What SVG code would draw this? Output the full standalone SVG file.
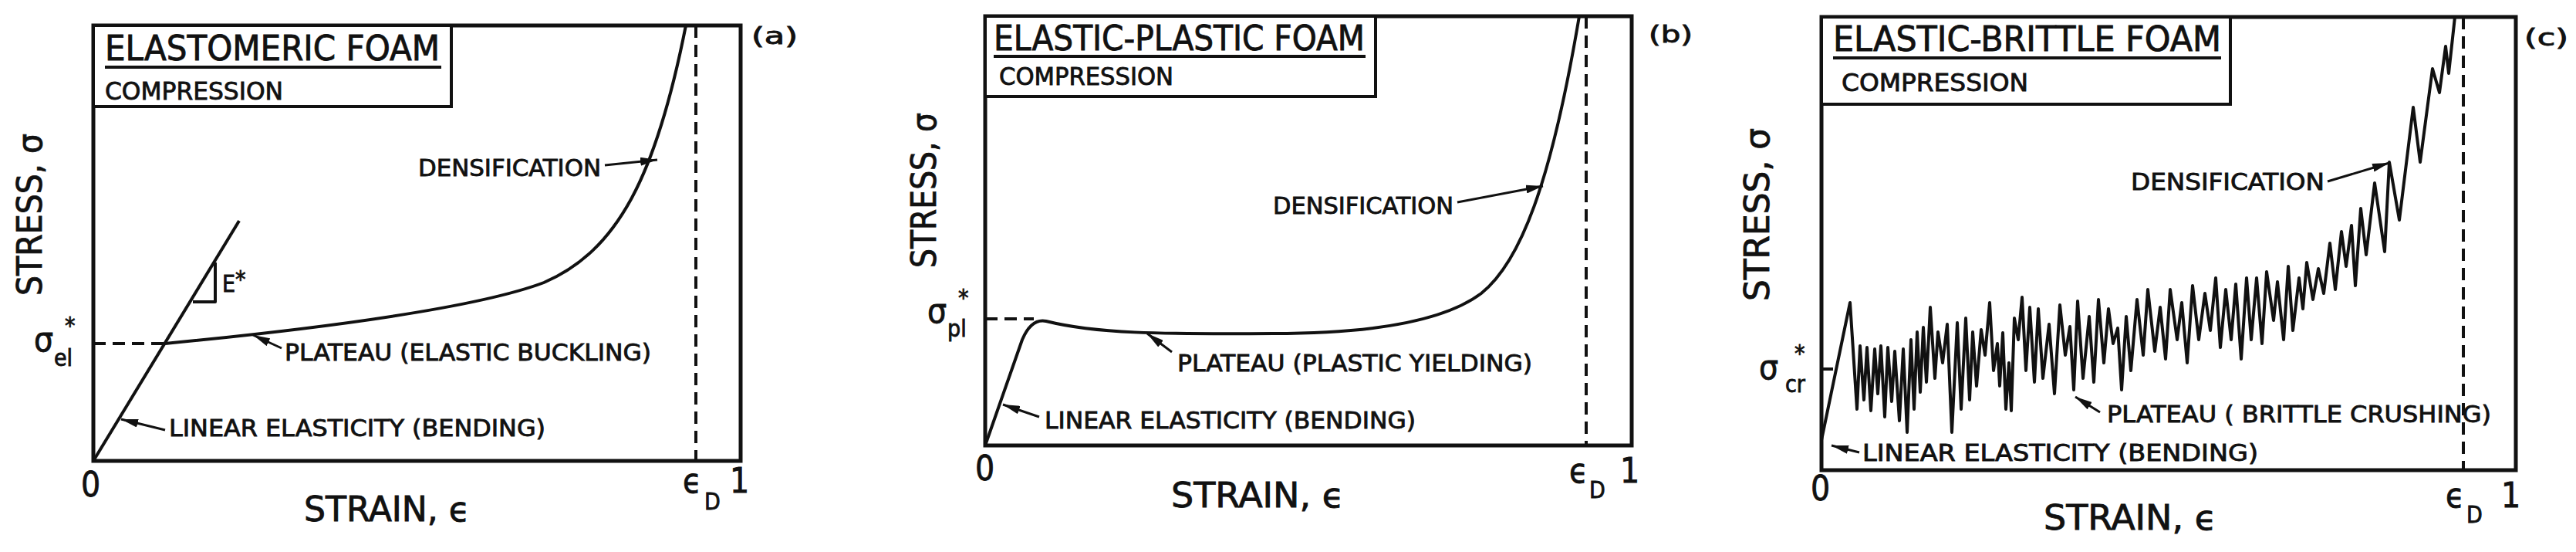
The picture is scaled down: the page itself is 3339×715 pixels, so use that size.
<svg xmlns="http://www.w3.org/2000/svg" width="3339" height="715" viewBox="0 0 3339 715">
<style>
text{font-family:"DejaVu Sans Condensed","Liberation Sans Narrow","Liberation Sans",sans-serif;fill:#111;stroke:#111;stroke-width:0.8}
.box{fill:none;stroke:#111;stroke-width:5}
.tb{fill:#fff;stroke:#111;stroke-width:4}
.cur{fill:none;stroke:#111;stroke-width:4;stroke-linejoin:round}
.dash{fill:none;stroke:#111;stroke-width:4;stroke-dasharray:16 9}
.ld{fill:none;stroke:#111;stroke-width:3;marker-end:url(#ah)}
.t1{font-size:44px}
.t2{font-size:32px}
.lb{font-size:30px}
.ax{font-size:44px}
.sub{font-size:30px}
.ul{stroke:#111;stroke-width:4}
</style>
<defs>
<marker id="ah" viewBox="0 0 20 10" refX="20" refY="5" markerWidth="22" markerHeight="11" markerUnits="userSpaceOnUse" orient="auto"><path d="M0,0 L20,5 L0,10 Z" fill="#111"/></marker>
</defs>
<rect width="3339" height="715" fill="#fff"/>

<g id="panel-a">
<rect class="box" x="121" y="33" width="839" height="564"/>
<rect class="tb" x="121" y="33" width="464" height="105"/>
<text class="t1" x="136" y="78" textLength="434" lengthAdjust="spacingAndGlyphs">ELASTOMERIC FOAM</text>
<line class="ul" x1="136" y1="87" x2="572" y2="87"/>
<text class="t2" x="136" y="129" textLength="231" lengthAdjust="spacingAndGlyphs">COMPRESSION</text>
<text class="lb" x="974" y="57" font-size="34" textLength="60" lengthAdjust="spacingAndGlyphs">(a)</text>
<text class="ax" transform="translate(54,383) rotate(-90)" textLength="210" lengthAdjust="spacingAndGlyphs">STRESS, σ</text>
<text class="ax" x="44" y="455">σ</text><text class="sub" x="70" y="474">el</text><text class="sub" x="84" y="432">*</text>
<line class="dash" x1="121" y1="445" x2="214" y2="445"/>
<line class="cur" x1="121" y1="597" x2="310" y2="286"/>
<polyline class="cur" points="250,391 279,391 279,340" stroke-width="3"/>
<text class="lb" x="288" y="378">E</text><text class="lb" x="305" y="372" font-size="34">*</text>
<path class="cur" d="M214,445 C420,425 620,398 705,366 C800,325 850,230 889,33"/>
<line class="dash" x1="902" y1="33" x2="902" y2="597"/>
<text class="ax" x="105" y="643">0</text>
<text class="ax" x="394" y="675" textLength="215" lengthAdjust="spacingAndGlyphs">STRAIN, ϵ</text>
<text class="ax" x="885" y="638">ϵ</text><text class="sub" x="913" y="660">D</text>
<text class="ax" x="946" y="638">1</text>
<text class="lb" x="542" y="228" textLength="237" lengthAdjust="spacingAndGlyphs">DENSIFICATION</text>
<text class="lb" x="369" y="467" textLength="475" lengthAdjust="spacingAndGlyphs">PLATEAU (ELASTIC BUCKLING)</text>
<text class="lb" x="219" y="565" textLength="488" lengthAdjust="spacingAndGlyphs">LINEAR ELASTICITY (BENDING)</text>
</g>

<g id="panel-b">
<rect class="box" x="1277" y="21" width="838" height="556"/>
<rect class="tb" x="1277" y="21" width="506" height="104"/>
<text class="t1" x="1288" y="65" textLength="481" lengthAdjust="spacingAndGlyphs">ELASTIC-PLASTIC FOAM</text>
<line class="ul" x1="1288" y1="73" x2="1770" y2="73"/>
<text class="t2" x="1295" y="110" textLength="226" lengthAdjust="spacingAndGlyphs">COMPRESSION</text>
<text class="lb" x="2137" y="55" font-size="34" textLength="57" lengthAdjust="spacingAndGlyphs">(b)</text>
<text class="ax" transform="translate(1213,347) rotate(-90)" textLength="201" lengthAdjust="spacingAndGlyphs">STRESS, σ</text>
<text class="ax" x="1202" y="418">σ</text><text class="sub" x="1228" y="436">pl</text><text class="sub" x="1242" y="396">*</text>
<line class="dash" x1="1277" y1="413" x2="1340" y2="413"/>
<path class="cur" d="M1277,577 L1325,440 Q1337,412 1356,416 C1420,432 1500,433 1650,432 C1800,432 1880,410 1920,380 C1970,340 2010,240 2047,21"/>
<line class="dash" x1="2056" y1="21" x2="2056" y2="577"/>
<text class="ax" x="1264" y="622">0</text>
<text class="ax" x="1518" y="657" textLength="224" lengthAdjust="spacingAndGlyphs">STRAIN, ϵ</text>
<text class="ax" x="2034" y="625">ϵ</text><text class="sub" x="2060" y="645">D</text>
<text class="ax" x="2100" y="625">1</text>
<text class="lb" x="1650" y="277" textLength="234" lengthAdjust="spacingAndGlyphs">DENSIFICATION</text>
<text class="lb" x="1526" y="481" textLength="460" lengthAdjust="spacingAndGlyphs">PLATEAU (PLASTIC YIELDING)</text>
<text class="lb" x="1354" y="555" textLength="481" lengthAdjust="spacingAndGlyphs">LINEAR ELASTICITY (BENDING)</text>
</g>

<g id="panel-c">
<rect class="box" x="2361" y="22" width="900" height="587"/>
<rect class="tb" x="2361" y="22" width="530" height="113"/>
<text class="t1" x="2376" y="66" textLength="503" lengthAdjust="spacingAndGlyphs">ELASTIC-BRITTLE FOAM</text>
<line class="ul" x1="2376" y1="75" x2="2879" y2="75"/>
<text class="t2" x="2387" y="118" textLength="242" lengthAdjust="spacingAndGlyphs">COMPRESSION</text>
<text class="lb" x="3272" y="59" font-size="34" textLength="57" lengthAdjust="spacingAndGlyphs">(c)</text>
<text class="ax" transform="translate(2293,390) rotate(-90)" textLength="224" lengthAdjust="spacingAndGlyphs">STRESS, σ</text>
<text class="ax" x="2280" y="491">σ</text><text class="sub" x="2314" y="508">cr</text><text class="sub" x="2326" y="468">*</text>
<line class="cur" x1="2361" y1="478" x2="2376" y2="478" stroke-width="3"/>
<polyline class="cur" stroke-width="4" points="2361,570 2398,392 2407,530 2411,448 2416,518 2420,450 2425,532 2430,452 2434,510 2438,448 2443,540 2447,450 2452,520 2456,455 2462,545 2467,452 2472,560 2477,440 2481,530 2485,430 2489,508 2493,424 2497,495 2502,398 2508,490 2512,430 2518,470 2524,420 2530,560 2537,418 2542,530 2548,412 2553,518 2557,430 2562,500 2568,427 2573,460 2579,392 2584,480 2589,445 2592,500 2596,431 2600,530 2604,470 2607,532 2611,412 2616,440 2621,385 2626,480 2631,398 2637,495 2642,400 2648,490 2656,420 2663,510 2670,395 2677,460 2683,423 2688,505 2693,390 2700,490 2708,410 2714,495 2720,388 2727,470 2733,400 2739,445 2745,425 2750,505 2756,410 2762,480 2770,388 2778,460 2784,375 2793,455 2800,398 2807,465 2813,375 2822,440 2828,392 2835,470 2842,370 2850,440 2858,380 2865,428 2872,360 2878,450 2885,375 2892,440 2898,368 2905,465 2912,360 2918,440 2925,360 2932,445 2938,352 2947,415 2952,365 2960,440 2966,345 2972,428 2980,360 2985,400 2990,340 2998,388 3005,348 3012,380 3020,315 3027,375 3035,300 3041,345 3048,292 3053,370 3060,270 3067,330 3078,237 3091,326 3097,210 3110,285 3128,139 3137,210 3153,89 3162,120 3170,60 3174,95 3182,22"/>
<line class="dash" x1="3193" y1="22" x2="3193" y2="609"/>
<text class="ax" x="2347" y="648">0</text>
<text class="ax" x="2649" y="686" textLength="224" lengthAdjust="spacingAndGlyphs">STRAIN, ϵ</text>
<text class="ax" x="3170" y="657">ϵ</text><text class="sub" x="3197" y="677">D</text>
<text class="ax" x="3242" y="657">1</text>
<text class="lb" x="2762" y="246" textLength="251" lengthAdjust="spacingAndGlyphs">DENSIFICATION</text>
<text class="lb" x="2731" y="547" textLength="498" lengthAdjust="spacingAndGlyphs">PLATEAU ( BRITTLE CRUSHING)</text>
<text class="lb" x="2414" y="597" textLength="513" lengthAdjust="spacingAndGlyphs">LINEAR ELASTICITY (BENDING)</text>
</g>

<g id="connectors">
<line class="ld" x1="784" y1="214" x2="852" y2="207"/>
<line class="ld" x1="365" y1="451" x2="328" y2="434"/>
<line class="ld" x1="214" y1="557" x2="157" y2="543"/>
<line class="ld" x1="1889" y1="262" x2="2000" y2="241"/>
<line class="ld" x1="1519" y1="456" x2="1487" y2="432"/>
<line class="ld" x1="1347" y1="540" x2="1300" y2="524"/>
<line class="ld" x1="3017" y1="235" x2="3097" y2="211"/>
<line class="ld" x1="2722" y1="534" x2="2690" y2="514"/>
<line class="ld" x1="2410" y1="586" x2="2374" y2="577"/>
</g>
</svg>
